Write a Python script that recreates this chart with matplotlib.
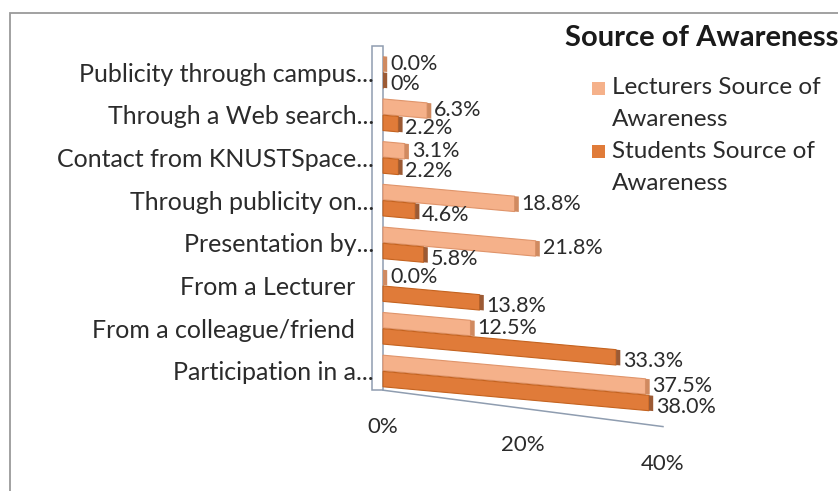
import math
import textwrap
import matplotlib
matplotlib.use("Agg")
import matplotlib.pyplot as plt
from matplotlib.patches import Rectangle
from matplotlib.transforms import Affine2D, ScaledTranslation

categories = ["Publicity through campus...", "Through a Web search...",
              "Contact from KNUSTSpace...", "Through publicity on...",
              "Presentation by...", "From a Lecturer   ",
              "From a colleague/friend   ", "Participation in a..."]
lecturers = [0.0, 6.3, 3.1, 18.8, 21.8, 0.0, 12.5, 37.5]
students = [0, 2.2, 2.2, 4.6, 5.8, 13.8, 33.3, 38.0]
series_names = ["Lecturers Source of Awareness", "Students Source of Awareness"]
xticks = [0, 20, 40]

plt.rcParams['font.family'] = ['Lato', 'DejaVu Sans']
W, H, DPI = 838, 491, 100
fig = plt.figure(figsize=(W / DPI, H / DPI), dpi=DPI)
fig.patch.set_facecolor('white')
TXT = '#2b2b2b'

# outer chart frame, only left and top edges fall inside the canvas
fig.add_artist(Rectangle((10 / W, -0.1), 1.0, 1 - 13 / H + 0.1, transform=fig.transFigure,
                         fill=False, edgecolor='#9a9a9a', lw=1.3))

ax = fig.add_axes([383 / W, (H - 396.6) / H, 280 / W, 350.2 / H])
ax.set_xlim(0, 40)
ax.set_ylim(7.6, -0.6)
for s in ax.spines.values():
    s.set_visible(False)
ax.set_xticks([])
ys = list(range(len(categories)))
ax.set_yticks(ys)
ax.set_yticklabels(categories, fontsize=18, color=TXT)
ax.tick_params(axis='y', length=0, pad=6.5)


def skewed(slope):
    # shear in pixel space around the 0% line so bars run downhill
    x0 = ax.transData.transform((0, 0))[0]
    return ax.transData + Affine2D().translate(-x0, 0).skew(0, math.atan(-slope)).translate(x0, 0)


bar_t = skewed(0.09)
floor_t = skewed(0.13)

# back wall and floor edge
floor_y = 7.45
wall = Rectangle((-1.6, -0.6), 1.6, floor_y + 0.6, fill=False, edgecolor='#8f9db0', lw=1.1,
                 clip_on=False)
ax.add_patch(wall)
ax.plot([0, 40], [floor_y, floor_y], color='#8f9db0', lw=1.1, transform=floor_t, clip_on=False)

h = 0.36
off = 0.19
cap = 0.6
lec_y = [y - off for y in ys]
stu_y = [y + off for y in ys]

colors = ['#f5b18a', '#e07b39']
series = [
    (lecturers, lec_y, colors[0], '#e0946a', '#d08a60'),
    (students, stu_y, colors[1], '#c5631f', '#9c5a34'),
]
for vals, yy, face, edge, capc in series:
    bars = ax.barh(yy, vals, height=h, color=face, edgecolor=edge, lw=0.8, clip_on=False)
    caps = ax.barh(yy, [cap] * len(vals), left=vals, height=h, color=capc, lw=0, clip_on=False)
    for p in list(bars) + list(caps):
        p.set_transform(bar_t)

for v, y in zip(lecturers, lec_y):
    ax.text(v + 1.0, y - 0.02, f"{v:.1f}%", ha='left', va='center', fontsize=15.5,
            color=TXT, transform=bar_t, clip_on=False)
for v, y in zip(students, stu_y):
    lab = "0%" if v == 0 else f"{v:.1f}%"
    ax.text(v + 1.0, y + 0.08, lab, ha='left', va='center', fontsize=15.5,
            color=TXT, transform=bar_t, clip_on=False)

# percentage ticks along the sloping floor
for t in xticks:
    ax.text(t, floor_y, f"{t}%", ha='center', va='center', fontsize=16, color=TXT,
            transform=floor_t + ScaledTranslation(0, -0.37, fig.dpi_scale_trans), clip_on=False)

fig.text(565 / W, 1 - 38 / H, "Source of Awareness", fontsize=21, fontweight='bold',
         color='#1a1a1a', ha='left', va='center')

# legend: swatch beside the first line of each wrapped series name
for i, (name, c) in enumerate(zip(series_names, colors)):
    top = 88 + 63 * i
    fig.add_artist(Rectangle((592 / W, 1 - (top + 6.5) / H), 13 / W, 13 / H,
                             transform=fig.transFigure, color=c, lw=0))
    for j, line in enumerate(textwrap.wrap(name, 19)):
        fig.text(612 / W, 1 - (top + 32 * j) / H, line, fontsize=17.5,
                 color=TXT, ha='left', va='center')

fig.savefig('out.png', dpi=DPI, facecolor='white')
